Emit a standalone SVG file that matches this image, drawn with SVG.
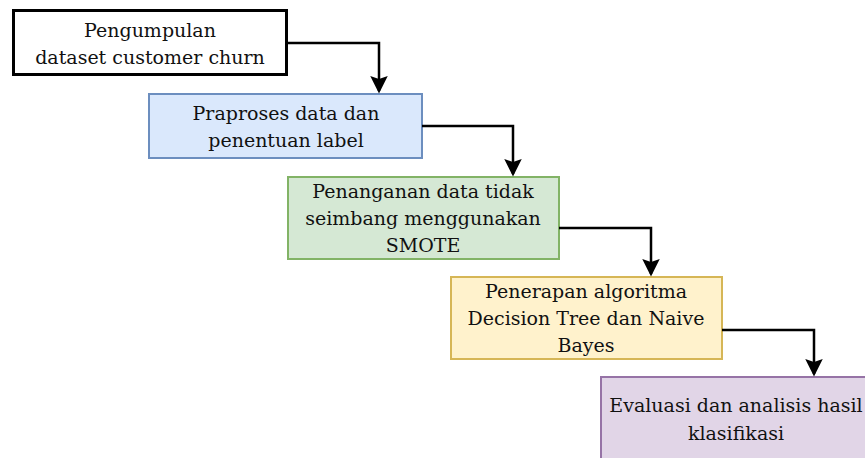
<svg xmlns="http://www.w3.org/2000/svg" width="865" height="458" viewBox="0 0 865 458">
<style>
text{font-family:"DejaVu Serif","Liberation Serif",serif;font-size:19px;fill:#111;text-anchor:middle}
.c{fill:none;stroke:#000;stroke-width:2.5}
</style>
<defs>
<marker id="ah" markerWidth="7" markerHeight="7" refX="6" refY="3.5" orient="auto" markerUnits="strokeWidth">
<path d="M0,0 L7,3.5 L0,7 L1.2,3.5 Z" fill="#000"/>
</marker>
</defs>
<rect width="865" height="458" fill="#fff"/>
<g id="n1">
<rect x="13.5" y="10.5" width="273" height="64" fill="#fff" stroke="#000" stroke-width="3"/>
<text x="150" y="37">Pengumpulan</text>
<text x="150" y="64">dataset customer churn</text>
</g>
<g id="n2">
<rect x="149" y="94" width="273" height="64" fill="#dae8fc" stroke="#6c8ebf" stroke-width="2"/>
<text x="286" y="120">Praproses data dan</text>
<text x="286" y="147">penentuan label</text>
</g>
<g id="n3">
<rect x="288" y="177" width="271" height="82" fill="#d5e8d4" stroke="#82b366" stroke-width="2"/>
<text x="423" y="198">Penanganan data tidak</text>
<text x="423" y="225">seimbang menggunakan</text>
<text x="423" y="252">SMOTE</text>
</g>
<g id="n4">
<rect x="451" y="277" width="271" height="82" fill="#fff2cc" stroke="#d6b656" stroke-width="2"/>
<text x="586" y="298">Penerapan algoritma</text>
<text x="586" y="325">Decision Tree dan Naive</text>
<text x="586" y="352">Bayes</text>
</g>
<g id="n5">
<rect x="601" y="377" width="272" height="90" fill="#e1d5e7" stroke="#9673a6" stroke-width="2"/>
<text x="736" y="412">Evaluasi dan analisis hasil</text>
<text x="736" y="440">klasifikasi</text>
</g>
<g id="connectors">
<path class="c" d="M287,43 H379 V91" marker-end="url(#ah)"/>
<path class="c" d="M422,126 H513 V174" marker-end="url(#ah)"/>
<path class="c" d="M559,228 H651 V274" marker-end="url(#ah)"/>
<path class="c" d="M722,330 H814 V374" marker-end="url(#ah)"/>
</g>
</svg>
